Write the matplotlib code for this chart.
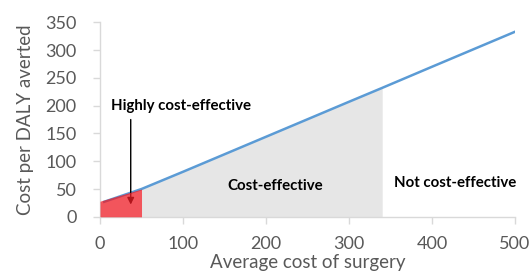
import numpy as np
import matplotlib.pyplot as plt

plt.rcParams['font.family'] = ['Lato', 'DejaVu Sans']

# line: average cost of surgery vs cost per DALY averted
cost = [5, 50, 100, 200, 300, 340, 400, 500]
daly_cost = [27, 50, 81, 144, 207, 232, 270, 333]

# shaded regions
red_x = [0, 50]
red_y = [28, 50]
grey_x = [50, 100, 200, 300, 340]
grey_y = [50, 81, 144, 207, 232]

xticks = [0, 100, 200, 300, 400, 500]
yticks = [0, 50, 100, 150, 200, 250, 300, 350]

grey_txt = '#595959'
axis_c = '#d9d9d9'

fig = plt.figure(figsize=(5.32, 2.79), dpi=100)
ax = fig.add_axes([0.188, 0.223, 0.78, 0.697])

ax.fill_between(grey_x, 0, grey_y, color='#e6e6e6', lw=0, zorder=1)
ax.plot(cost, daly_cost, color='#5b9bd5', lw=1.8, zorder=2)
ax.annotate('', xy=(37, 17), xytext=(37, 180),
            arrowprops=dict(arrowstyle='-|>', color='black', lw=1, mutation_scale=10),
            zorder=3)
ax.fill_between(red_x, 0, red_y, color='#ee1c25', alpha=0.75, lw=0, zorder=4)

ax.text(98, 199, 'Highly cost-effective', ha='center', va='center', fontsize=10.8,
        fontweight='bold', color='black')
ax.text(211, 55, 'Cost-effective', ha='center', va='center', fontsize=10.8,
        fontweight='bold', color='black')
ax.text(428, 60, 'Not cost-effective', ha='center', va='center', fontsize=10.8,
        fontweight='bold', color='black')

ax.set_xlim(0, 500)
ax.set_ylim(0, 350)
ax.set_xticks(xticks)
ax.set_yticks(yticks)
for s in ['top', 'right']:
    ax.spines[s].set_visible(False)
for s in ['left', 'bottom']:
    ax.spines[s].set_color(axis_c)
    ax.spines[s].set_linewidth(1)
ax.tick_params(colors=axis_c, labelcolor=grey_txt, labelsize=13, length=5, width=1)
ax.tick_params(axis='x', pad=9)
ax.tick_params(axis='y', pad=12)
ax.set_xlabel('Average cost of surgery', fontsize=13.5, color=grey_txt, labelpad=1)
ax.set_ylabel('Cost per DALY averted', fontsize=13.5, color=grey_txt, labelpad=8)

fig.savefig('out.png', dpi=100)
